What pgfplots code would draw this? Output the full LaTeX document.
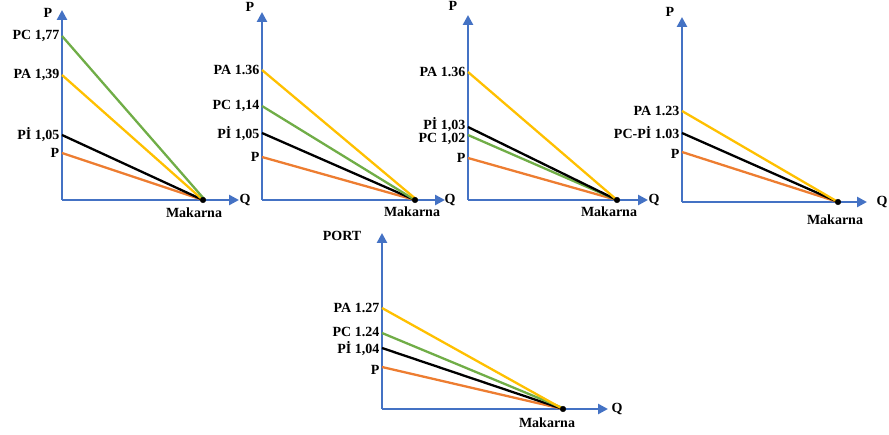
\documentclass[border=0pt]{standalone}
\usepackage{fontspec}
\setmainfont{Liberation Serif}
\usepackage{pgfplots}
\pgfplotsset{compat=1.18}
\usetikzlibrary{arrows.meta}
\definecolor{axblue}{HTML}{4472C4}
\definecolor{porange}{HTML}{ED7D31}
\definecolor{pyellow}{HTML}{FFC000}
\definecolor{pgreen}{HTML}{70AD47}
\newcommand{\lf}{\fontsize{14}{15}\selectfont\bfseries}
\pgfplotsset{
  panel/.style={
    x=1pt, y=1pt, anchor=origin,
    axis lines=left,
    axis line style={axblue, line width=2.8pt, -{Triangle[length=10pt,width=10pt]}},
    xmin=0, ymin=0, enlargelimits=false, clip=false,
    major tick length=0pt, xtick=\empty,
    yticklabel style={font=\lf, inner xsep=2.5pt},
  },
  pl/.style={line width=2.3pt},
}
\begin{document}
\begin{tikzpicture}
\path[use as bounding box] (0,0) rectangle (889pt,434pt);
% Panel 1
\begin{axis}[panel, at={(62pt,234pt)}, xmax=177, ymax=190,
  ytick={47,65,125,164}, yticklabels={{P},{Pİ 1,05},{PA 1,39},{PC 1,77}}]
\addplot[pl, porange] coordinates {(0,47) (141,0)};
\addplot[pl, black] coordinates {(0,65) (141,0)};
\addplot[pl, pyellow] coordinates {(0,125) (141,0)};
\addplot[pl, pgreen] coordinates {(0,164) (143,0)};
\addplot[only marks, mark=*, mark size=2.8pt, black] coordinates {(141,0)};
\node[font=\lf] at (axis cs:-14,187) {P};
\node[font=\lf] at (axis cs:183,0) {Q};
\node[font=\lf] at (axis cs:132,-13) {Makarna};
\end{axis}
% Panel 2
\begin{axis}[panel, at={(262pt,234pt)}, xmax=183, ymax=188,
  ytick={43,66,94,130}, yticklabels={{P},{Pİ 1,05},{PC 1,14},{PA 1.36}}]
\addplot[pl, porange] coordinates {(0,43) (153,0)};
\addplot[pl, black] coordinates {(0,67) (153,0)};
\addplot[pl, pgreen] coordinates {(0,94) (153,0)};
\addplot[pl, pyellow] coordinates {(0,130) (155,0)};
\addplot[only marks, mark=*, mark size=2.8pt, black] coordinates {(153,0)};
\node[font=\lf] at (axis cs:-12,193) {P};
\node[font=\lf] at (axis cs:188,0) {Q};
\node[font=\lf] at (axis cs:150,-12) {Makarna};
\end{axis}
% Panel 3
\begin{axis}[panel, at={(468pt,234pt)}, xmax=180, ymax=185,
  ytick={42,61,75,128}, yticklabels={{P},{PC 1,02},{Pİ 1,03},{PA 1.36}}]
\addplot[pl, porange] coordinates {(0,42) (149,0)};
\addplot[pl, pgreen] coordinates {(0,65) (149,0)};
\addplot[pl, black] coordinates {(0,73) (149,0)};
\addplot[pl, pyellow] coordinates {(0,128) (149,0)};
\addplot[only marks, mark=*, mark size=2.8pt, black] coordinates {(149,0)};
\node[font=\lf] at (axis cs:-15,194) {P};
\node[font=\lf] at (axis cs:186,0) {Q};
\node[font=\lf] at (axis cs:141,-12) {Makarna};
\end{axis}
% Panel 4
\begin{axis}[panel, at={(682pt,232pt)}, xmax=185, ymax=185,
  ytick={48,69,91}, yticklabels={{P},{PC-Pİ 1.03},{PA 1.23}}]
\addplot[pl, porange] coordinates {(0,50) (156,0)};
\addplot[pl, black] coordinates {(0,69) (156,0)};
\addplot[pl, pyellow] coordinates {(0,91) (156,0)};
\addplot[only marks, mark=*, mark size=2.8pt, black] coordinates {(156,0)};
\node[font=\lf] at (axis cs:-12,190) {P};
\node[font=\lf] at (axis cs:200,0) {Q};
\node[font=\lf] at (axis cs:153,-18) {Makarna};
\end{axis}
% Panel 5 (PORT)
\begin{axis}[panel, at={(382pt,25pt)}, xmax=226, ymax=176,
  ytick={39,60,77,101}, yticklabels={{P},{Pİ 1,04},{PC 1.24},{PA 1.27}}]
\addplot[pl, porange] coordinates {(0,42) (181,0)};
\addplot[pl, black] coordinates {(0,61) (181,0)};
\addplot[pl, pgreen] coordinates {(0,76) (183,0)};
\addplot[pl, pyellow] coordinates {(0,101) (181,0)};
\addplot[only marks, mark=*, mark size=2.8pt, black] coordinates {(181,0)};
\node[font=\lf] at (axis cs:-40,173) {PORT};
\node[font=\lf] at (axis cs:235,0) {Q};
\node[font=\lf] at (axis cs:165,-14) {Makarna};
\end{axis}
\end{tikzpicture}
\end{document}
